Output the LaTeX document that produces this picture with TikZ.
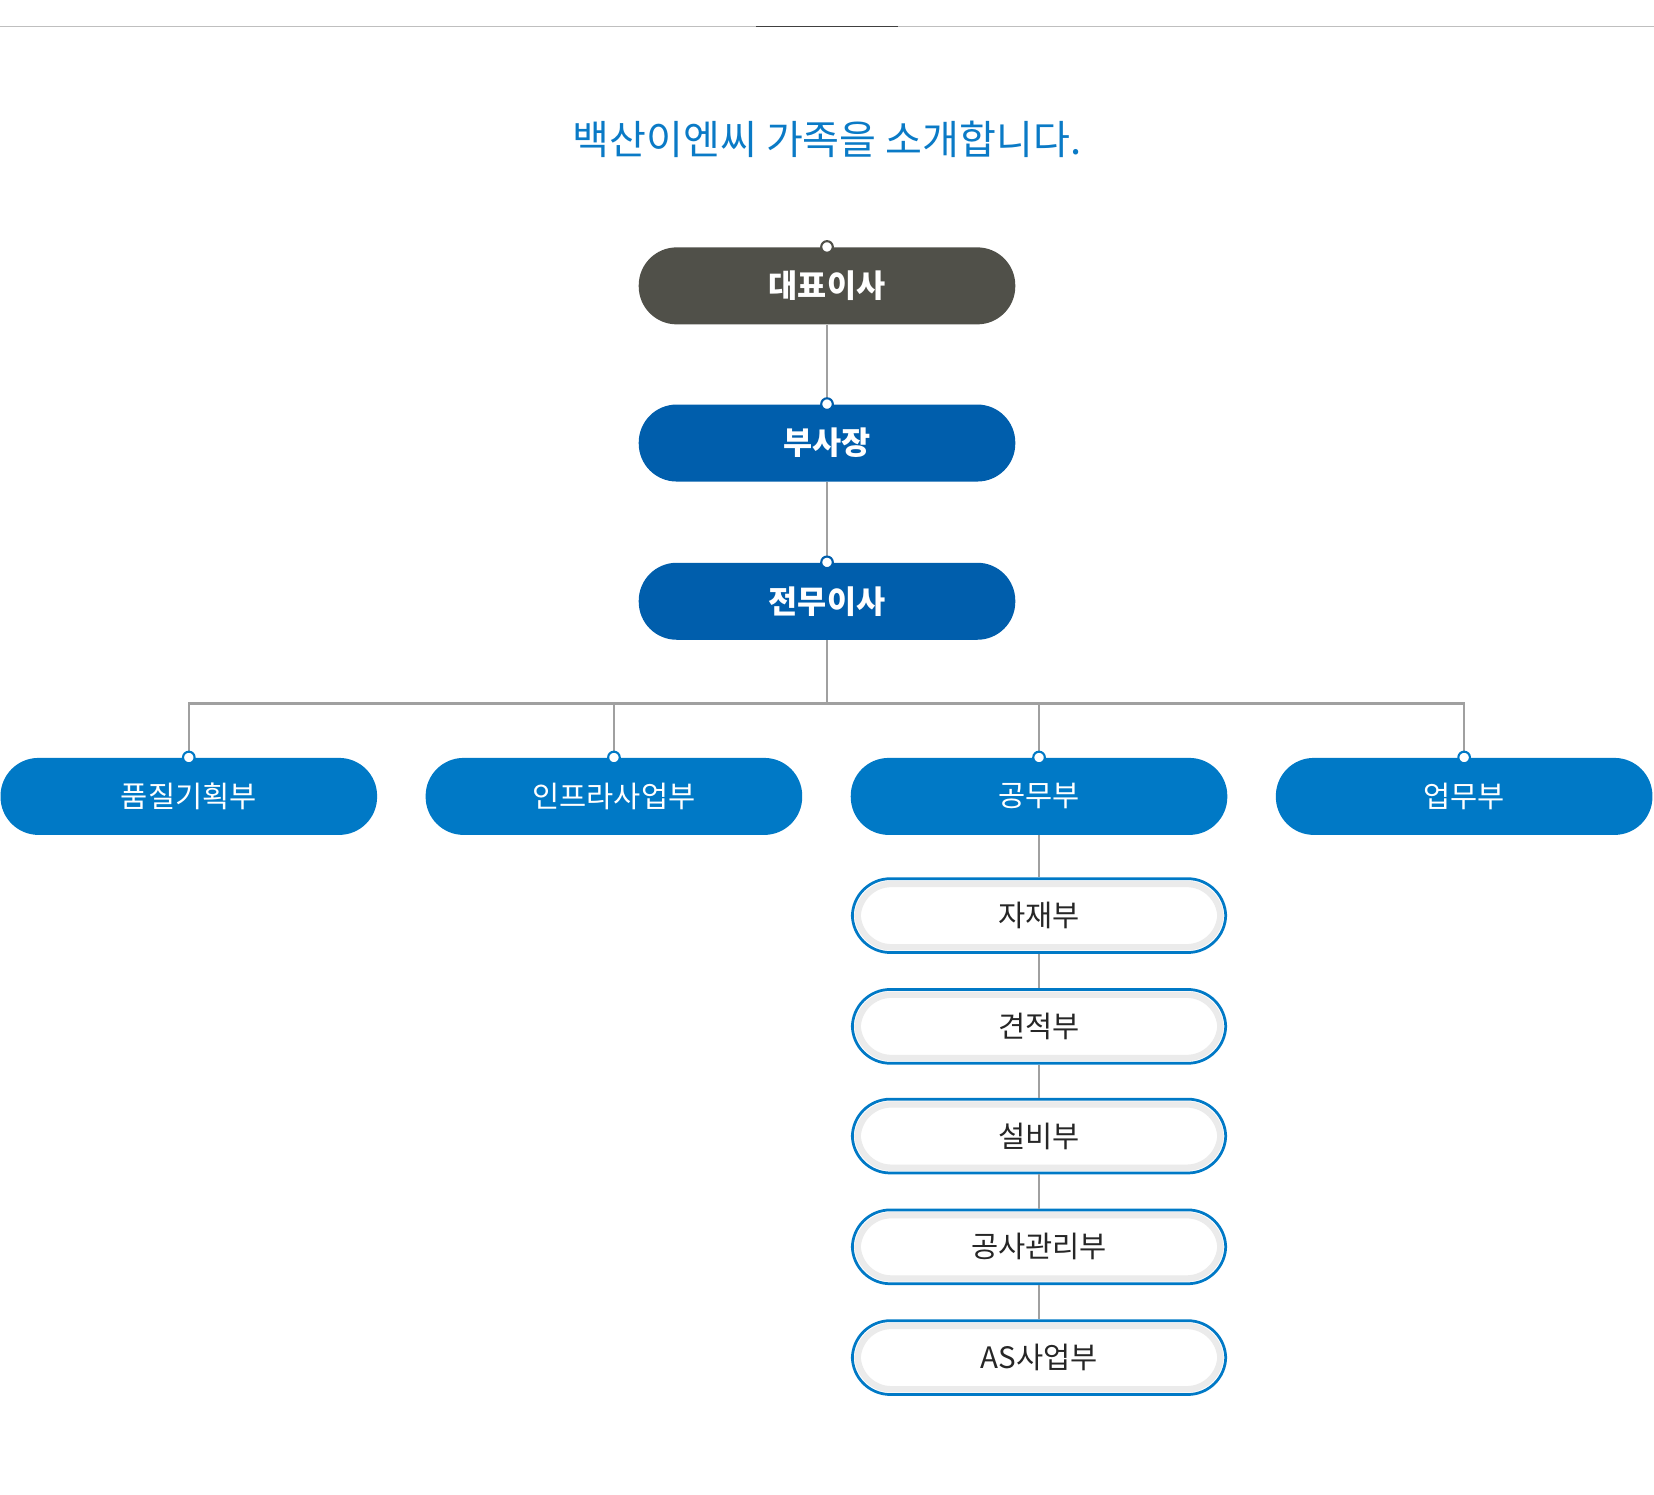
\documentclass[tikz,border=0pt]{standalone}
\usepackage{fontspec}
\setmainfont{Noto Sans CJK KR}
\definecolor{ttl}{HTML}{0A7AC6}
\definecolor{dark}{HTML}{505049}
\definecolor{navy}{HTML}{005EAC}
\definecolor{mid}{HTML}{0079C6}
\definecolor{ln}{HTML}{A0A0A0}
\begin{document}
\begin{tikzpicture}[x=0.5pt,y=-0.5pt,
 pill/.style={rounded corners=18pt,minimum width=178.5pt,minimum height=36.5pt,inner sep=0pt,text=white},
 top/.style={pill,font=\fontsize{15}{15}\selectfont\bfseries},
 dept/.style={pill,fill=mid,font=\fontsize{14}{14}\selectfont},
 sub/.style={rounded corners=18pt,minimum width=177pt,minimum height=35pt,inner sep=0pt,draw=mid,line width=1.3pt,fill=white,font=\fontsize{14}{14}\selectfont,text=black!85,
   path picture={\draw[black!8,line width=3pt,rounded corners=16pt] ([xshift=2.5pt,yshift=-2.5pt]path picture bounding box.north west) rectangle ([xshift=-2.5pt,yshift=2.5pt]path picture bounding box.south east);}},
 con/.style={draw=ln,line width=1.2pt},
 dot/.style={circle,fill=white,draw=#1,line width=1pt,minimum size=5.5pt,inner sep=0pt}]
\useasboundingbox (0,0) rectangle (1568,1417);
\draw[black!25,line width=0.6pt] (0,25) -- (1568,25);
\draw[black!75,line width=0.8pt] (717,25) -- (851,25);
\node[text=ttl,font=\fontsize{19}{19}\selectfont] (t) at (784,132) {백산이엔씨 가족을 소개합니다.};
\node[top,fill=dark] (a) at (784,271) {대표이사};
\node[top,fill=navy] (b) at (784,420) {부사장};
\node[top,fill=navy] (c) at (784,570) {전무이사};
\node[dept] (d1) at (179,755) {품질기획부};
\node[dept] (d2) at (582,755) {인프라사업부};
\node[dept] (d3) at (985,755) {공무부};
\node[dept] (d4) at (1388,755) {업무부};
\node[sub] (s1) at (985,868) {자재부};
\node[sub] (s2) at (985,973) {견적부};
\node[sub] (s3) at (985,1077) {설비부};
\node[sub] (s4) at (985,1182) {공사관리부};
\node[sub] (s5) at (985,1287) {AS사업부};
\coordinate (h) at (784,667);
\begin{scope}[on background layer/.style={}]
\end{scope}
\path[con] (a.south) -- (b.north) (b.south) -- (c.north) (c.south) -- (h);
\foreach \d in {d1,d2,d3,d4}{\path[con] (h) -| (\d.north);}
\path[con] (d3.south) -- (s1.north) (s1.south) -- (s2.north) (s2.south) -- (s3.north) (s3.south) -- (s4.north) (s4.south) -- (s5.north);
\node[dot=dark] at (a.north) {};
\node[dot=navy] at (b.north) {};
\node[dot=navy] at (c.north) {};
\foreach \d in {d1,d2,d3,d4}{\node[dot=mid] at (\d.north) {};}
\end{tikzpicture}
\end{document}
